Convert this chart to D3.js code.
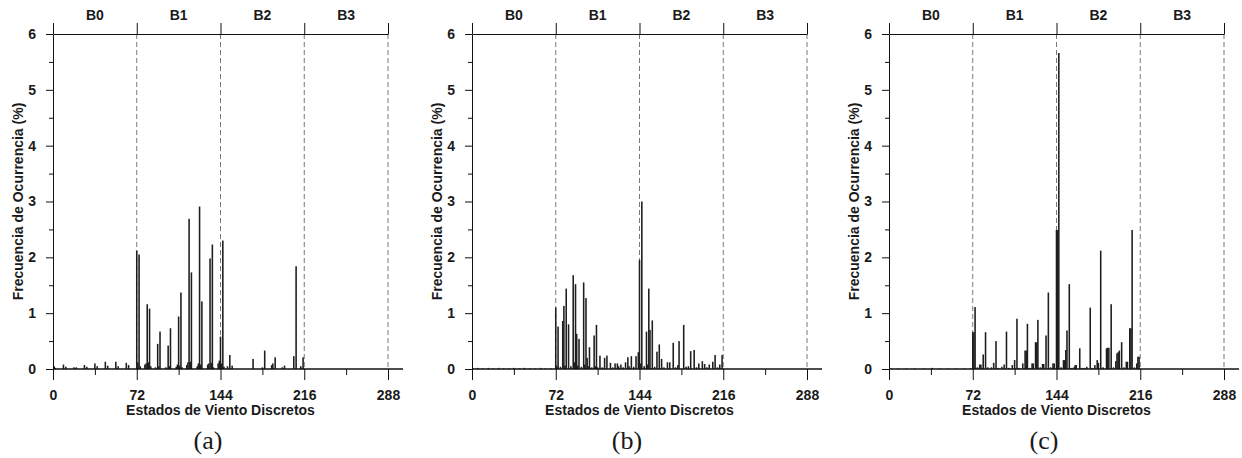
<!DOCTYPE html>
<html>
<head>
<meta charset="utf-8">
<script src="https://cdn.jsdelivr.net/npm/d3@7"></script>
<style>
  body { margin: 0; background: #fff; }
  text { font-family: "Liberation Sans", Arial, sans-serif; font-weight: bold; font-size: 14px; fill: #1a1a1a; }
  .caption { font-family: "Liberation Serif", "DejaVu Serif", serif; font-weight: normal; font-size: 26px; }
</style>
</head>
<body>
<div id="chart"></div>
<script>
// [estado, frecuencia %] for each panel
var barsA = [
  [1,0.05],[2,0.02],[9,0.08],[11,0.04],[18,0.03],[20,0.03],[27,0.07],[29,0.04],[36,0.10],[38,0.05],
  [45,0.13],[47,0.06],[54,0.13],[56,0.05],[63,0.11],[65,0.07],
  [72,2.12],[73,0.12],[74,2.05],[75,0.05],[79,0.08],[80,0.10],[81,1.16],[82,0.12],[83,1.08],[84,0.05],
  [88,0.03],[90,0.45],[91,0.05],[92,0.67],[97,0.03],[99,0.42],[100,0.05],[101,0.73],
  [106,0.04],[107,0.08],[108,0.94],[109,0.06],[110,1.37],[111,0.03],
  [115,0.07],[116,0.12],[117,2.69],[118,0.13],[119,1.73],
  [124,0.05],[125,0.10],[126,2.91],[127,0.08],[128,1.21],
  [133,0.08],[134,0.10],[135,1.98],[136,0.11],[137,2.23],[138,0.03],
  [142,0.10],[143,0.15],[144,0.58],[145,0.10],[146,2.30],
  [147,0.04],[150,0.05],[152,0.25],[154,0.06],[172,0.18],[180,0.03],[182,0.33],[188,0.07],[189,0.10],
  [191,0.21],[197,0.03],[199,0.06],[207,0.23],[209,1.84],[213,0.05],[215,0.21]
];
var barsB = [
  [1,0.01],[5,0.02],[9,0.01],[14,0.02],[18,0.01],[23,0.02],[27,0.01],[32,0.01],[36,0.02],[41,0.01],
  [45,0.02],[50,0.01],[54,0.01],[59,0.02],[63,0.01],[68,0.01],
  [72,1.10],[73,0.06],[74,0.76],[76,0.04],[78,0.86],[79,1.13],[80,0.06],[81,1.44],[83,0.80],[85,0.05],
  [87,1.68],[88,0.12],[89,1.52],[90,0.63],[91,0.06],[92,0.54],[94,0.04],[96,1.55],[97,0.08],[98,1.27],
  [99,0.20],[100,0.05],[101,0.39],[103,0.03],[105,0.60],[106,0.05],[107,0.79],[108,0.03],[110,0.24],
  [112,0.03],[114,0.20],[116,0.24],[119,0.11],[121,0.03],[123,0.10],[125,0.10],[126,0.05],[128,0.08],
  [130,0.03],[132,0.12],[134,0.21],[135,0.05],[137,0.23],[139,0.04],[141,0.23],[143,0.30],
  [144,1.95],[145,0.10],[146,3.00],[148,0.05],[150,0.67],[151,0.08],[152,1.44],[153,0.70],[155,0.87],
  [157,0.04],[159,0.31],[161,0.44],[163,0.18],[165,0.03],[168,0.12],[170,0.12],[173,0.47],[175,0.03],
  [177,0.07],[178,0.50],[182,0.79],[184,0.04],[186,0.05],[188,0.32],[191,0.34],[193,0.03],[195,0.10],
  [198,0.14],[200,0.09],[202,0.03],[204,0.08],[207,0.13],[209,0.25],[211,0.03],[213,0.08],[215,0.25]
];
var barsC = [
  [2,0.01],[8,0.01],[15,0.01],[22,0.01],[30,0.01],[37,0.02],[44,0.01],[51,0.01],[58,0.01],[65,0.01],[70,0.01],
  [72,0.66],[73,0.66],[74,1.11],[76,0.03],[78,0.08],[79,0.08],[81,0.26],[83,0.66],[85,0.03],[88,0.03],
  [90,0.11],[92,0.50],[94,0.02],[97,0.04],[99,0.08],[101,0.67],[103,0.02],[106,0.07],[108,0.16],[110,0.90],
  [112,0.02],[115,0.10],[117,0.33],[118,0.33],[119,0.81],[121,0.02],[123,0.10],[124,0.10],[126,0.48],
  [127,0.48],[128,0.88],[130,0.03],[132,0.09],[133,0.09],[135,0.60],[137,1.37],[139,0.03],[141,0.10],[142,0.10],
  [144,2.49],[145,2.49],[146,5.66],[148,0.03],[150,0.16],[151,0.16],[152,0.34],[153,0.69],[155,1.52],
  [157,0.02],[159,0.03],[160,0.07],[161,0.07],[164,0.37],[166,0.02],[168,0.02],[170,0.04],[173,1.10],
  [175,0.02],[177,0.07],[179,0.16],[180,0.11],[182,2.12],[184,0.03],[187,0.37],[188,0.38],[189,0.38],
  [191,1.16],[193,0.03],[195,0.14],[196,0.28],[197,0.30],[198,0.33],[200,0.48],[202,0.03],[204,0.13],
  [205,0.13],[207,0.73],[208,0.73],[209,2.49],[211,0.03],[213,0.10],[214,0.22],[215,0.22]
];

var bandEdges = [0, 72, 144, 216, 288];
var bandLabels = ["B0", "B1", "B2", "B3"];
var xMajor = [0, 72, 144, 216, 288];
var xMinor = [36, 108, 180, 252];
var yMajor = [0, 1, 2, 3, 4, 5, 6];
var yMinor = [0.5, 1.5, 2.5, 3.5, 4.5, 5.5];
var captions = ["(a)", "(b)", "(c)"];

var W = 1242, H = 458;
var svg = d3.select("#chart").append("svg")
    .attr("width", W)
    .attr("height", H);

var lefts = [53, 472, 889];
var panels = [barsA, barsB, barsC];

var x = d3.scaleLinear().domain([0, 288]).range([0, 335]);
var y = d3.scaleLinear().domain([0, 6]).range([369, 34]);
var bw = x(1) - x(0) + 0.4;

function boldText(sel) {
    sel.style("font-size", "14px")
        .style("font-family", "'Liberation Sans', Arial, sans-serif")
        .style("font-weight", "bold")
        .style("fill", "#1a1a1a");
}

panels.forEach(function (data, p) {
    var g = svg.append("g").attr("transform", "translate(" + lefts[p] + ",0)");

    // dashed band separators
    g.selectAll(".sep")
        .data(bandEdges.slice(1))
        .enter().append("line")
        .attr("x1", function (d) { return x(d); })
        .attr("x2", function (d) { return x(d); })
        .attr("y1", y(6))
        .attr("y2", y(0))
        .style("stroke", "#777")
        .style("stroke-width", 1)
        .style("stroke-dasharray", "5,3");

    // bars
    g.selectAll(".bar")
        .data(data)
        .enter().append("rect")
        .attr("x", function (d) { return x(d[0]) - bw / 2; })
        .attr("width", bw)
        .attr("y", function (d) { return y(d[1]); })
        .attr("height", function (d) { return y(0) - y(d[1]); })
        .style("fill", "#1e1e1e");

    // top frame with band ticks
    var top = g.append("g")
        .attr("transform", "translate(0," + y(6) + ")")
        .call(d3.axisTop(x).tickValues(bandEdges).tickSize(11).tickSizeOuter(0).tickFormat(""));
    top.selectAll("line, path").style("stroke", "#111");

    g.selectAll(".band")
        .data(bandLabels)
        .enter().append("text")
        .attr("x", function (d, i) { return x((bandEdges[i] + bandEdges[i + 1]) / 2); })
        .attr("y", 20)
        .attr("text-anchor", "middle")
        .text(function (d) { return d; });

    // x axis
    var xa = g.append("g")
        .attr("transform", "translate(0," + y(0) + ")")
        .call(d3.axisBottom(x).tickValues(xMajor).tickSize(11).tickSizeOuter(0));
    xa.select(".domain").remove();
    xa.selectAll("text").attr("y", 31).attr("dy", 0).call(boldText);
    xa.selectAll("line").style("stroke", "#111");

    var xm = g.append("g")
        .attr("transform", "translate(0," + y(0) + ")")
        .call(d3.axisBottom(x).tickValues(xMinor).tickSize(6).tickFormat(""));
    xm.select(".domain").remove();
    xm.selectAll("line").style("stroke", "#111");

    g.append("line")
        .attr("x1", x(0)).attr("x2", x(288) + 15)
        .attr("y1", y(0)).attr("y2", y(0))
        .style("stroke", "#111").style("stroke-width", 1.3);

    // y axis
    var ya = g.append("g")
        .call(d3.axisLeft(y).tickValues(yMajor).tickFormat(d3.format("d"))
            .tickSize(7).tickPadding(10).tickSizeOuter(0));
    ya.selectAll("text").call(boldText);
    ya.selectAll("line, path").style("stroke", "#111");

    var ym = g.append("g")
        .call(d3.axisLeft(y).tickValues(yMinor).tickSize(4).tickFormat(""));
    ym.select(".domain").remove();
    ym.selectAll("line").style("stroke", "#111");

    // labels
    g.append("text")
        .attr("transform", "translate(-30," + (y(0) + y(6)) / 2 + ") rotate(-90)")
        .attr("text-anchor", "middle")
        .text("Frecuencia de Ocurrencia (%)");

    g.append("text")
        .attr("x", x(144))
        .attr("y", 415)
        .attr("text-anchor", "middle")
        .text("Estados de Viento Discretos");

    g.append("text")
        .attr("class", "caption")
        .attr("x", 155)
        .attr("y", 449)
        .attr("text-anchor", "middle")
        .text(captions[p]);
});
</script>
</body>
</html>
